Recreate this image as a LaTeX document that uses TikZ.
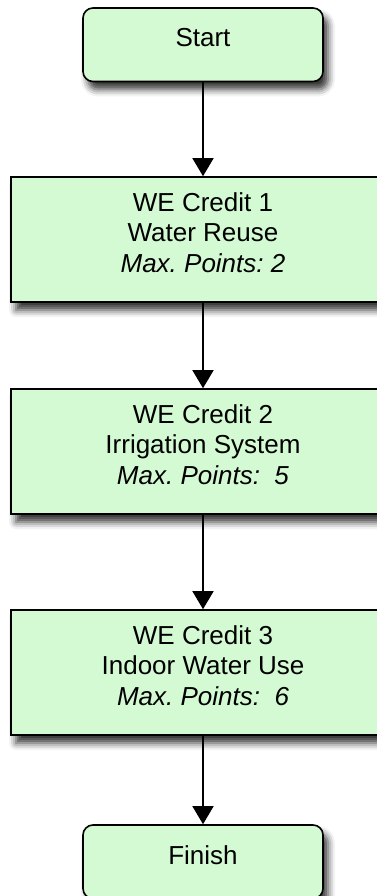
\documentclass[tikz,border=0pt]{standalone}
\usepackage{fontspec}
\setmainfont{Liberation Sans}
\usetikzlibrary{arrows.meta,shadows.blur}
\definecolor{boxgreen}{RGB}{212,250,212}
\tikzset{
  base/.style={draw=black, line width=1.6pt, fill=boxgreen, inner sep=0pt,
    text depth=14pt, align=center,
    font=\fontsize{26}{30.5}\selectfont\frenchspacing,
    blur shadow={shadow xshift=5pt, shadow yshift=-8pt, shadow blur radius=7pt, shadow opacity=80}},
  terminal/.style={base, rounded corners=10pt, minimum width=240pt, minimum height=73.5pt},
  credit/.style={base, minimum width=384pt, minimum height=125pt},
  flow/.style={line width=1.5pt, -{Triangle[length=18pt,width=21pt]}}
}
\begin{document}
\begin{tikzpicture}[x=1pt,y=-1pt]
\useasboundingbox (0,0) rectangle (377,896);
\node[terminal] (start) at (203,44.75) {Start};
\node[credit] (c1) at (203,239.5) {WE Credit 1\\Water Reuse\\\textit{Max. Points: 2}};
\node[credit] (c2) at (203,451.5) {WE Credit 2\\Irrigation System\\\textit{Max. Points:\ \ 5}};
\node[credit] (c3) at (203,672.5) {WE Credit 3\\Indoor Water Use\\\textit{Max. Points:\ \ 6}};
\node[terminal] (finish) at (203,861.75) {Finish};
\draw[flow] (start) -- (c1);
\draw[flow] (c1) -- (c2);
\draw[flow] (c2) -- (c3);
\draw[flow] (c3) -- (finish);
\end{tikzpicture}
\end{document}
